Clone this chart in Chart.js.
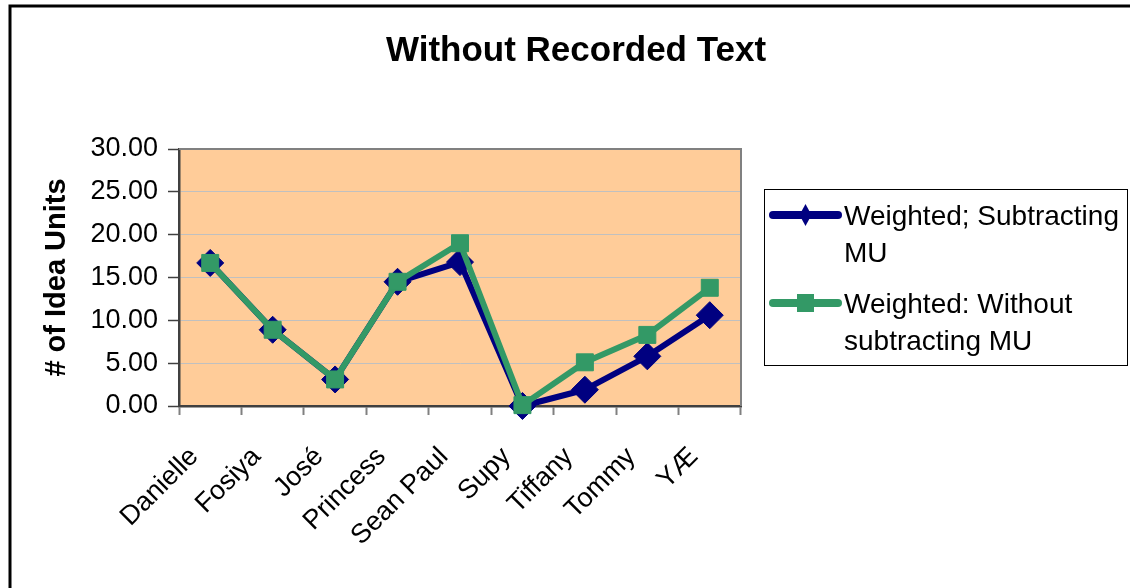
<!DOCTYPE html>
<html>
<head>
<meta charset="utf-8">
<script src="https://cdn.jsdelivr.net/npm/chart.js@4"></script>
<style>
  html, body { margin: 0; padding: 0; background: #fff; }
  #wrap { width: 1130px; height: 588px; position: relative; }
</style>
</head>
<body>
<div id="wrap"><canvas id="c" width="1130" height="588"></canvas></div>
<script>
// Idea units per student
const students = ['Danielle', 'Fosiya', 'José', 'Princess', 'Sean Paul', 'Supy', 'Tiffany', 'Tommy', 'YÆ'];
const weightedSubtractingMU = [16.7, 8.9, 3.1, 14.5, 16.8, 0.0, 1.9, 5.8, 10.6];
const weightedWithoutSubtractingMU = [16.7, 8.9, 3.1, 14.5, 19.0, 0.1, 5.1, 8.3, 13.8];
const yTickValues = [0, 5, 10, 15, 20, 25, 30];
const seriesLines = [['Weighted; Subtracting', 'MU'], ['Weighted: Without', 'subtracting MU']];

const FONT = "'Liberation Sans', Arial, sans-serif";
const NAVY = '#000080';
const SEA = '#339966';

// Page frame, plot background and the plot's top/right edges
const framePlugin = {
  id: 'frame',
  afterLayout(chart) {
    // the title spans the page inside its frame, not just the plot column
    const t = chart.titleBlock;
    if (t) { t.left = 22; t.right = chart.width; t.width = chart.width - 22; }
  },
  beforeDraw(chart) {
    const { ctx, chartArea: a } = chart;
    ctx.save();
    ctx.fillStyle = '#ffffff';
    ctx.fillRect(0, 0, chart.width, chart.height);
    ctx.fillStyle = '#FFCC99';
    ctx.fillRect(a.left, a.top, a.right - a.left, a.bottom - a.top);
    ctx.restore();
  },
  beforeDatasetsDraw(chart) {
    const { ctx, chartArea: a } = chart;
    ctx.save();
    ctx.strokeStyle = '#808080';
    ctx.lineWidth = 2;
    ctx.beginPath();
    ctx.moveTo(a.left, a.top);
    ctx.lineTo(a.right, a.top);
    ctx.lineTo(a.right, a.bottom);
    ctx.stroke();
    ctx.restore();
  },
  afterDraw(chart) {
    const { ctx } = chart;
    ctx.save();
    ctx.strokeStyle = '#000000';
    ctx.lineWidth = 3;
    ctx.strokeRect(10, 6, chart.width + 20, chart.height + 20);
    ctx.restore();
  }
};

// Boxed legend with wrapped entry text
const boxLegend = {
  id: 'boxLegend',
  afterDraw(chart) {
    const { ctx } = chart;
    const box = { x: 764.5, y: 189.5, w: 363, h: 176 };
    ctx.save();
    ctx.fillStyle = '#ffffff';
    ctx.fillRect(box.x, box.y, box.w, box.h);
    ctx.strokeStyle = '#000000';
    ctx.lineWidth = 1;
    ctx.strokeRect(box.x, box.y, box.w, box.h);

    const rowY = [215, 303];
    chart.data.datasets.forEach((ds, i) => {
      const y = rowY[i];
      ctx.strokeStyle = ds.borderColor;
      ctx.lineWidth = 8;
      ctx.lineCap = 'round';
      ctx.beginPath();
      ctx.moveTo(773, y);
      ctx.lineTo(838, y);
      ctx.stroke();
      ctx.fillStyle = ds.borderColor;
      const mx = 805.5;
      if (ds.pointStyle === 'rectRot') {
        ctx.beginPath();
        ctx.moveTo(mx, y - 11);
        ctx.lineTo(mx + 6, y);
        ctx.lineTo(mx, y + 11);
        ctx.lineTo(mx - 6, y);
        ctx.closePath();
        ctx.fill();
      } else {
        ctx.fillRect(mx - 8.5, y - 9, 17, 18);
      }
      ctx.fillStyle = '#000000';
      ctx.font = '28px ' + FONT;
      ctx.textBaseline = 'alphabetic';
      ctx.textAlign = 'left';
      seriesLines[i].forEach((line, k) => {
        ctx.fillText(line, 844, y + 10 + k * 37);
      });
    });
    ctx.restore();
  }
};

const chart = new Chart(document.getElementById('c'), {
  type: 'line',
  data: {
    labels: students,
    datasets: [
      {
        label: seriesLines[0].join(' '),
        data: weightedSubtractingMU,
        borderColor: NAVY,
        backgroundColor: NAVY,
        pointBackgroundColor: NAVY,
        pointBorderColor: NAVY,
        borderWidth: 6,
        borderJoinStyle: 'round',
        pointStyle: 'rectRot',
        pointRadius: 13.5,
        pointBorderWidth: 1,
        tension: 0,
        clip: false,
        order: 1
      },
      {
        label: seriesLines[1].join(' '),
        data: weightedWithoutSubtractingMU,
        borderColor: SEA,
        backgroundColor: SEA,
        pointBackgroundColor: SEA,
        pointBorderColor: SEA,
        borderWidth: 6,
        borderJoinStyle: 'round',
        pointStyle: 'rect',
        pointRadius: 12,
        pointBorderWidth: 1,
        tension: 0,
        clip: false,
        order: 0
      }
    ]
  },
  options: {
    responsive: false,
    animation: false,
    devicePixelRatio: 1,
    layout: { padding: { left: 0, right: 389, top: 0, bottom: 0 } },
    plugins: {
      legend: { display: false },
      tooltip: { enabled: false },
      title: {
        display: true,
        text: 'Without Recorded Text',
        color: '#000000',
        font: { family: FONT, size: 35, weight: 'bold' },
        padding: { top: 30, bottom: 77 }
      }
    },
    scales: {
      x: {
        offset: true,
        grid: { offset: true, drawOnChartArea: false, tickLength: 9, tickColor: '#808080', tickWidth: 2 },
        border: { color: '#404040', width: 2.5 },
        ticks: {
          color: '#000000',
          font: { family: FONT, size: 27 },
          maxRotation: 45,
          minRotation: 45,
          autoSkip: false,
          padding: 26,
          labelOffset: -16
        },
        afterFit(scale) { scale.height = 182; }
      },
      y: {
        min: 0,
        max: 30,
        afterBuildTicks(scale) { scale.ticks = yTickValues.map(v => ({ value: v })); },
        grid: { color: '#c0c0c0', lineWidth: 1, tickLength: 11, tickColor: '#404040', tickWidth: 1.5 },
        border: { color: '#404040', width: 2.5 },
        ticks: {
          color: '#000000',
          font: { family: FONT, size: 27 },
          padding: 10,
          callback: v => Number(v).toFixed(2)
        },
        title: {
          display: true,
          text: '# of Idea Units',
          color: '#000000',
          font: { family: FONT, size: 29, weight: 'bold' },
          padding: { top: 39.6, bottom: 0 }
        },
        afterFit(scale) { scale.width = 179; }
      }
    }
  },
  plugins: [framePlugin, boxLegend]
});
</script>
</body>
</html>
